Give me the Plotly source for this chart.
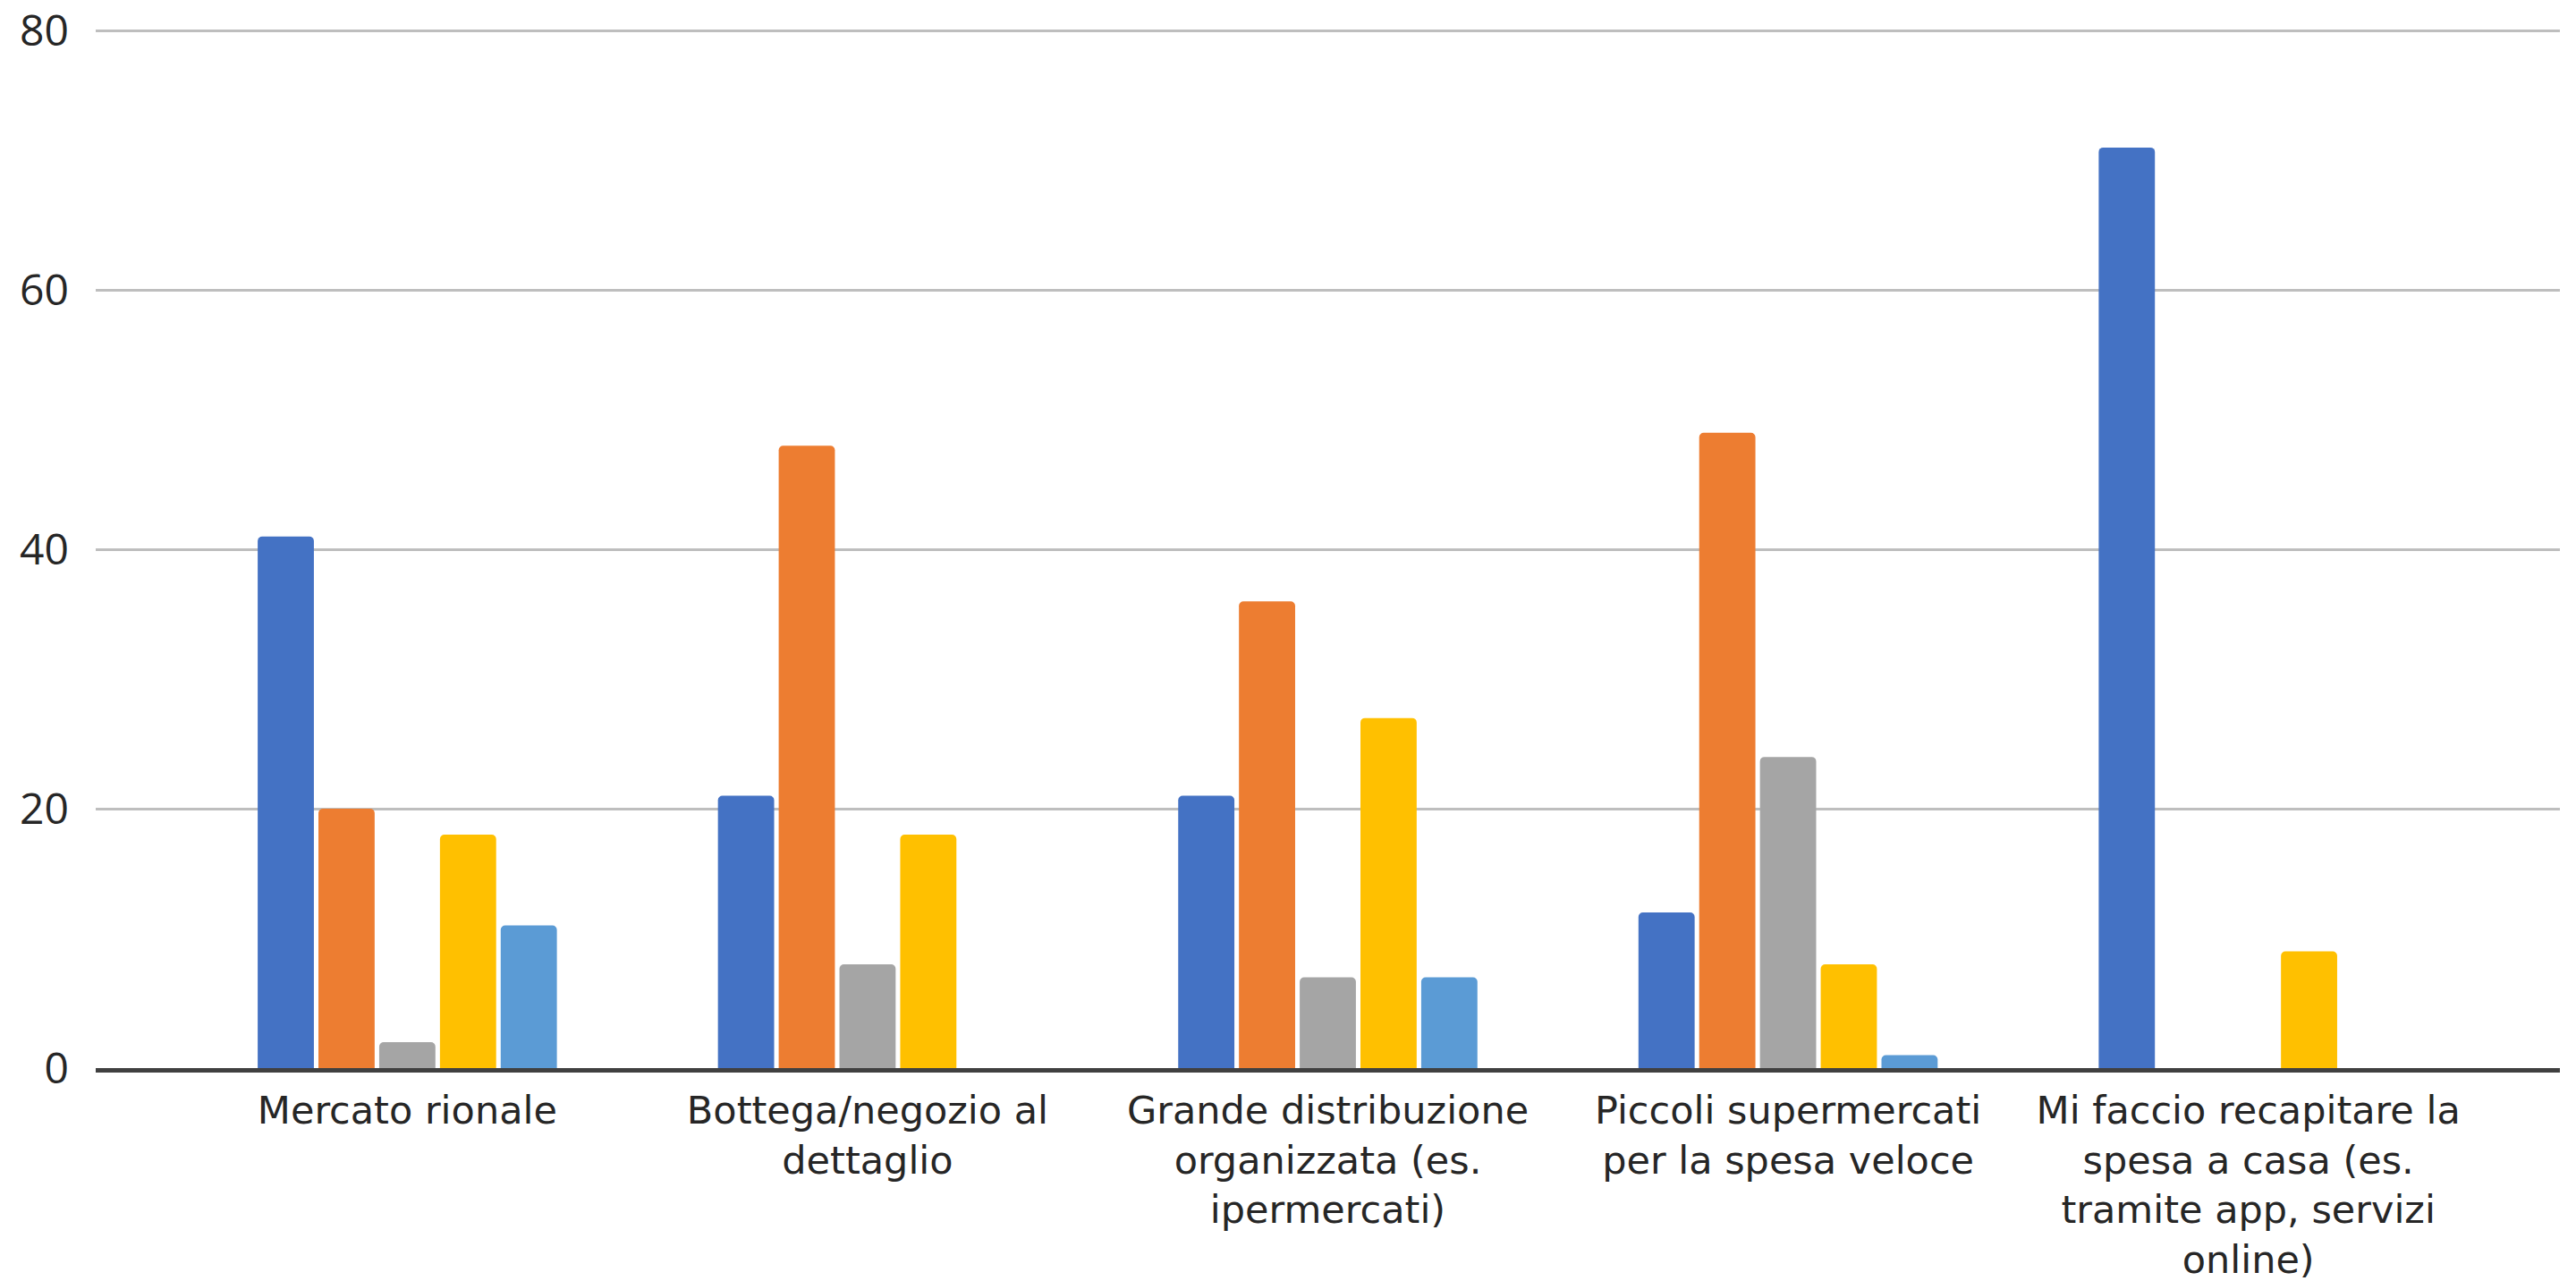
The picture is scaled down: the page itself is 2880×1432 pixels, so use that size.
import plotly.graph_objects as go

categories = [
    "Mercato rionale",
    "Bottega/negozio al<br>dettaglio",
    "Grande distribuzione<br>organizzata (es.<br>ipermercati)",
    "Piccoli supermercati<br>per la spesa veloce",
    "Mi faccio recapitare la<br>spesa a casa (es.<br>tramite app, servizi<br>online)",
]

series_names = ["Serie 1", "Serie 2", "Serie 3", "Serie 4", "Serie 5"]
serie1 = [41, 21, 21, 12, 71]
serie2 = [20, 48, 36, 49, 0]
serie3 = [2, 8, 7, 24, 0]
serie4 = [18, 18, 27, 8, 9]
serie5 = [11, 0, 7, 1, 0]

y_ticks = [0, 20, 40, 60, 80]

colors = ["#4472C4", "#ED7D31", "#A5A5A5", "#FFC000", "#5B9BD5"]

FONT = "'DejaVu Sans', sans-serif"
YFONT = "'Open Sans', sans-serif"

fig = go.Figure()
for name, vals, col in zip(series_names, [serie1, serie2, serie3, serie4, serie5], colors):
    fig.add_trace(go.Bar(
        x=list(range(len(categories))),
        y=vals,
        name=name,
        marker=dict(color=col, line=dict(width=0)),
        showlegend=False,
    ))

fig.update_layout(
    width=2880,
    height=1432,
    margin=dict(l=107, r=18, t=33, b=238),
    paper_bgcolor="white",
    plot_bgcolor="white",
    barmode="group",
    bargap=0.34,
    bargroupgap=0.075,
    barcornerradius=5,
    font=dict(family=FONT, size=43, color="#262626"),
)

fig.update_xaxes(
    tickmode="array",
    tickvals=list(range(len(categories))),
    ticktext=categories,
    range=[-0.677, 4.677],
    showgrid=False,
    showline=True,
    linecolor="#404040",
    linewidth=5,
    ticks="",
    tickangle=0,
    automargin=False,
    ticklabelstandoff=5,
    tickfont=dict(family=FONT, size=43, color="#262626"),
)

fig.update_yaxes(
    range=[0, 80.1],
    tickmode="array",
    tickvals=y_ticks,
    ticktext=[str(v) for v in y_ticks],
    showgrid=True,
    gridcolor="#BEBEBE",
    gridwidth=3,
    zeroline=False,
    showline=False,
    ticks="",
    automargin=False,
    ticklabelstandoff=29,
    tickfont=dict(family=YFONT, size=48, color="#262626"),
)

fig.write_html(
    "out.html",
    config={"displayModeBar": False},
    post_script="document.body.style.margin='0';document.body.style.overflow='hidden';",
)
